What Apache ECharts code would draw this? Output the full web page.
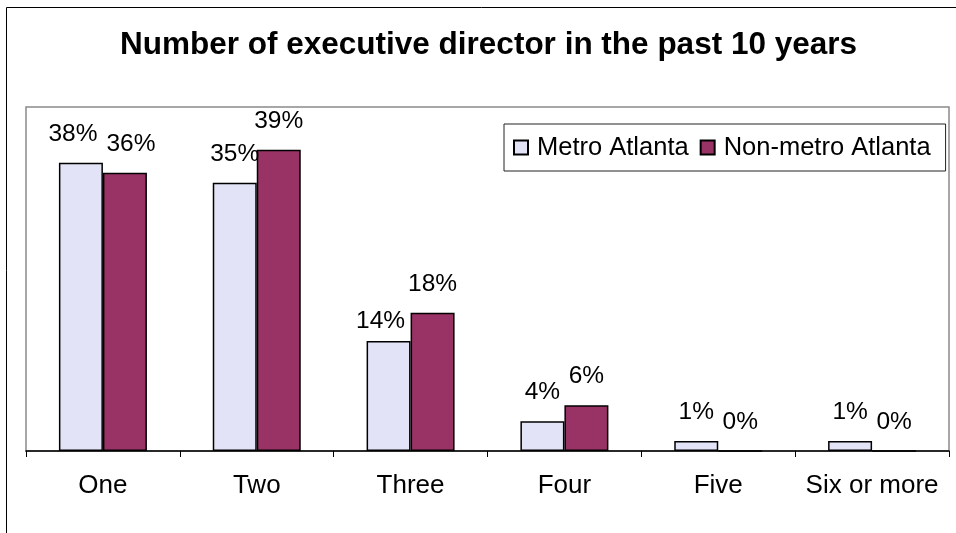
<!DOCTYPE html>
<html>
<head>
<meta charset="utf-8">
<script src="https://cdn.jsdelivr.net/npm/echarts@6/dist/echarts.min.js"></script>
<style>
  html, body { margin: 0; padding: 0; background: #fff; }
  #chart { width: 956px; height: 533px; }
</style>
</head>
<body>
<div id="chart"></div>
<script>
// ---- data ----
const categories = ['One', 'Two', 'Three', 'Four', 'Five', 'Six or more'];
const seriesNames = ['Metro Atlanta', 'Non-metro Atlanta'];
const metroValues = [37.7, 35.1, 14.4, 3.9, 1.3, 1.3];
const nonMetroValues = [36.4, 39.4, 18.1, 6.0, 0, 0];
const chartTitle = 'Number of executive director in the past 10 years';

// ---- styling ----
const FONT = 'Liberation Sans, Arial, sans-serif';
// label nudges (style only), keyed by series then category index
const labelNudges = [
  { 0: [-8, 0], 2: [-8, 9] },
  { 0: [6, 0] }
];

function buildData(values, sIdx) {
  return values.map((v, i) => {
    const item = { value: v };
    const n = labelNudges[sIdx][i];
    if (n) item.label = { offset: n };
    return item;
  });
}

const chart = echarts.init(document.getElementById('chart'), null, { renderer: 'canvas' });

const commonLabel = {
  show: true,
  position: 'top',
  distance: 16,
  color: '#000',
  fontFamily: FONT,
  fontSize: 24.5,
  formatter: p => Math.round(p.value) + '%'
};

chart.setOption({
  backgroundColor: '#fff',
  animation: false,
  title: {
    text: chartTitle,
    left: 120,
    top: 29,
    padding: 0,
    textStyle: { fontFamily: FONT, fontWeight: 'bold', fontSize: 31.5, color: '#000' }
  },
  legend: {
    data: seriesNames,
    left: 504,
    top: 124,
    padding: [10, 15, 10, 9],
    itemWidth: 14,
    itemHeight: 14,
    itemGap: 11,
    icon: 'rect',
    borderColor: '#222',
    borderWidth: 1,
    textStyle: { fontFamily: FONT, fontSize: 25.5, color: '#000', padding: [0, 0, 0, 4], lineHeight: 27 }
  },
  grid: {
    left: 26, right: 7, top: 107, bottom: 82,
    show: true,
    borderColor: '#8a8a8a',
    borderWidth: 1.5,
    backgroundColor: 'transparent'
  },
  xAxis: {
    type: 'category',
    data: categories,
    axisLine: { lineStyle: { color: '#000', width: 1.5 } },
    axisTick: { show: true, length: 6, lineStyle: { color: '#000', width: 1 } },
    axisLabel: { color: '#000', fontFamily: FONT, fontSize: 26, margin: 22, interval: 0 }
  },
  yAxis: {
    type: 'value',
    min: 0,
    max: 45,
    show: false,
    splitLine: { show: false }
  },
  graphic: [
    {
      type: 'rect',
      shape: { x: 6.5, y: 7.5, width: 1000, height: 1000 },
      style: { fill: 'none', stroke: '#000', lineWidth: 1 },
      silent: true,
      z: -1
    }
  ],
  series: [
    {
      name: seriesNames[0],
      type: 'bar',
      data: buildData(metroValues, 0),
      barGap: '0%',
      barCategoryGap: '42.8%',
      itemStyle: { color: '#E3E3F7', borderColor: '#000', borderWidth: 1.5 },
      label: commonLabel
    },
    {
      name: seriesNames[1],
      type: 'bar',
      data: buildData(nonMetroValues, 1),
      barGap: '0%',
      barCategoryGap: '42.8%',
      itemStyle: { color: '#993366', borderColor: '#000', borderWidth: 1.5 },
      label: commonLabel
    }
  ]
});
</script>
</body>
</html>
